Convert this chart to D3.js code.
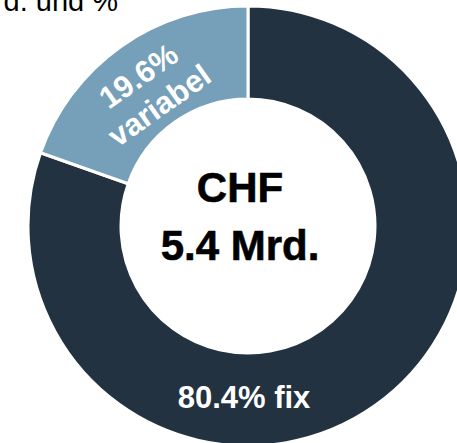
<!DOCTYPE html>
<html>
<head>
<meta charset="utf-8">
<script src="https://cdn.jsdelivr.net/npm/d3@7"></script>
<style>
  html, body { margin: 0; padding: 0; background: #fff; }
  svg { display: block; }
  text { font-family: "Liberation Sans", Arial, sans-serif; }
</style>
</head>
<body>
<script>
const categories = ["fix", "variabel"];
const values = [80.4, 19.6];
const sliceLabels = [["80.4% fix"], ["19.6%", "variabel"]];
const colors = ["#223240", "#769FB9"];
const centerLines = ["CHF", "5.4 Mrd."];
const titleText = "Finanzierung in CHF Mrd. und %";

const W = 457, H = 443;
const cx = 248, cy = 226, rOuter = 220, rInner = 127;

const svg = d3.select("body").append("svg").attr("width", W).attr("height", H);

svg.append("text")
  .attr("x", 118).attr("y", 11)
  .attr("text-anchor", "end")
  .attr("font-size", 29)
  .attr("fill", "#000")
  .text(titleText);

const pie = d3.pie().sort(null).value(d => d.value).startAngle(0).endAngle(2 * Math.PI);
const data = categories.map((c, i) => ({ cat: c, value: values[i], color: colors[i], label: sliceLabels[i] }));
const arcs = pie(data);
const arc = d3.arc().innerRadius(rInner).outerRadius(rOuter);

const g = svg.append("g").attr("transform", `translate(${cx},${cy})`);

g.selectAll("path.slice").data(arcs).join("path")
  .attr("class", "slice")
  .attr("d", arc)
  .attr("fill", d => d.data.color)
  .attr("stroke", "#fff")
  .attr("stroke-width", 3)
  .attr("stroke-linejoin", "miter");

// fix label at bottom of the ring
const fixArc = arcs[0];
g.append("text")
  .attr("x", -4)
  .attr("y", 182)
  .attr("text-anchor", "middle")
  .attr("font-size", 31)
  .attr("font-weight", "bold")
  .attr("fill", "#fff")
  .text(fixArc.data.label[0]);

// variabel label rotated along its arc
const varArc = arcs[1];
const mid = (varArc.startAngle + varArc.endAngle) / 2;
const [lx, ly] = arc.centroid(varArc);
const rot = mid * 180 / Math.PI - 360;
const vl = g.append("text")
  .attr("transform", `translate(${lx - 2},${ly + 2}) rotate(${rot})`)
  .attr("text-anchor", "middle")
  .attr("font-size", 31)
  .attr("font-weight", "bold")
  .attr("fill", "#fff");
varArc.data.label.forEach((t, i) => {
  vl.append("tspan").attr("x", 0).attr("y", i === 0 ? -2 : 34).text(t);
});

// center text
const ct = g.append("text")
  .attr("text-anchor", "middle")
  .attr("font-size", 42)
  .attr("font-weight", "bold")
  .attr("fill", "#000")
  .attr("stroke", "#000")
  .attr("stroke-width", 0.6);
centerLines.forEach((t, i) => {
  ct.append("tspan").attr("x", -8).attr("y", i === 0 ? -24 : 34).text(t);
});
</script>
</body>
</html>
